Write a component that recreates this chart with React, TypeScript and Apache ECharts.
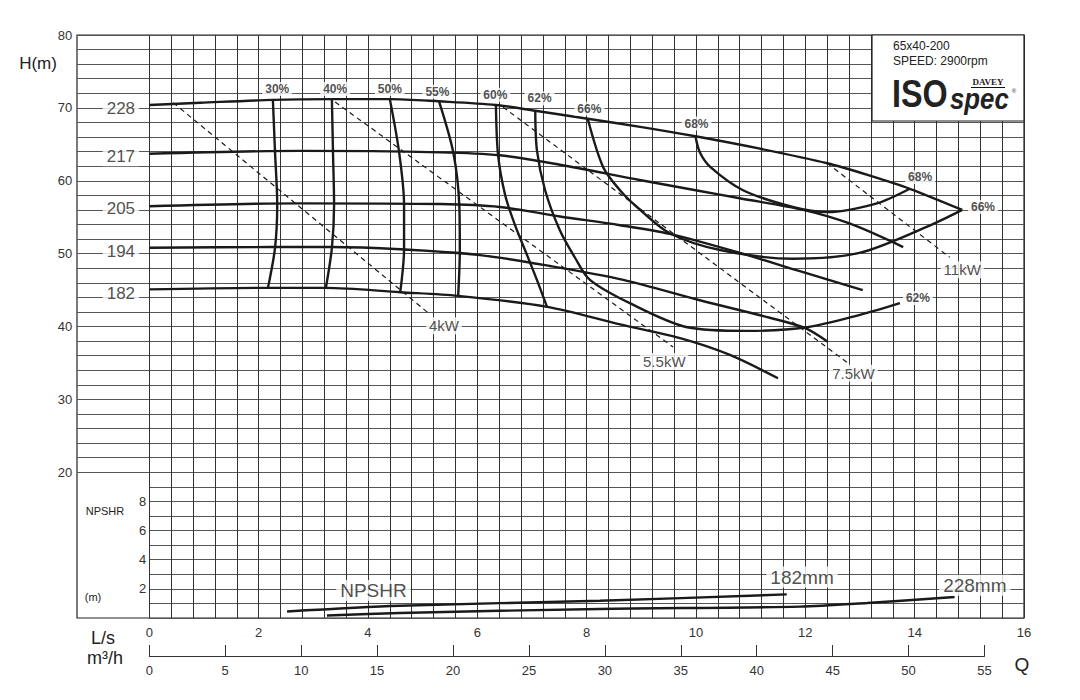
import React, { useEffect, useRef } from 'react';
import * as echarts from 'echarts';

// ---- Head curves (Q in L/s, H in m) per impeller diameter ----
const head228 = [[0, 70.4], [0.93, 70.7], [2.26, 71.1], [3.34, 71.2], [4.4, 71.2], [5.3, 70.9], [6.34, 70.4], [7.06, 69.6], [8.02, 68.5], [8.98, 67.4], [9.99, 66.1], [11.17, 64.4], [12.4, 62.4], [13.18, 60.7], [13.91, 58.9], [14.87, 56.0]];
const head217 = [[0, 63.7], [2.76, 64.1], [5.32, 63.9], [6.41, 63.5], [7.51, 62.2], [8.97, 60.1], [10.07, 58.6], [10.8, 57.6], [11.96, 56.0], [12.82, 54.1], [13.79, 50.9]];
const head205 = [[0, 56.5], [2.76, 56.9], [5.32, 56.8], [6.41, 56.4], [7.51, 55.1], [8.61, 53.9], [9.52, 52.7], [10.8, 50.1], [11.9, 47.6], [13.05, 45.0]];
const head194 = [[0, 50.8], [2.21, 50.9], [3.31, 50.9], [4.59, 50.6], [6.05, 49.8], [7.33, 48.3], [8.67, 46.4], [10.07, 43.6], [11.35, 41.2], [11.99, 39.8], [12.41, 37.9]];
const head182 = [[0, 45.1], [2.17, 45.3], [3.23, 45.3], [4.59, 44.7], [5.65, 44.2], [7.28, 42.7], [8.61, 40.3], [9.71, 38.4], [10.62, 36.1], [11.5, 32.9]];

// ---- Iso-efficiency curves ----
const eff30 = [[2.26, 71.2], [2.3, 63.9], [2.34, 56.8], [2.3, 50.8], [2.17, 45.3]];
const eff40 = [[3.34, 71.2], [3.36, 63.9], [3.38, 56.7], [3.34, 50.8], [3.23, 45.3]];
const eff50 = [[4.4, 71.2], [4.57, 63.9], [4.66, 56.7], [4.66, 50.6], [4.59, 44.7]];
const eff55 = [[5.3, 70.9], [5.56, 63.9], [5.67, 56.7], [5.68, 50.5], [5.65, 44.2]];
const eff60 = [[6.34, 70.4], [6.38, 63.5], [6.51, 58.0], [6.69, 53.9], [6.91, 49.8], [7.09, 46.4], [7.28, 42.6]];
const eff62 = [[7.06, 69.6], [7.09, 64.2], [7.24, 58.7], [7.51, 53.2], [7.79, 49.4], [8.06, 46.4], [8.79, 43.2], [9.84, 39.9], [10.93, 39.4], [12.03, 39.9], [13.0, 41.6], [13.73, 43.2]];
const eff66 = [[8.02, 68.5], [8.3, 61.9], [8.61, 58.7], [8.92, 56.4], [9.52, 52.8], [10.44, 50.5], [11.77, 49.3], [12.99, 50.1], [14.23, 53.7], [14.87, 56.0]];
const eff68 = [[9.99, 66.1], [10.07, 63.9], [10.26, 61.9], [10.86, 58.7], [11.77, 56.4], [12.4, 55.7], [13.31, 56.9], [13.91, 58.9]];

// ---- Power lines (dashed) ----
const power4 = [[0.44, 70.7], [5.13, 41.7]];
const power55 = [[3.4, 70.8], [9.58, 37.2]];
const power75 = [[6.47, 70.1], [12.76, 35.1]];
const power11 = [[12.4, 62.4], [14.64, 49.5]];

// ---- NPSHR curves (Q in L/s, NPSHR in m) ----
const npshr182 = [[2.52, 0.45], [4.58, 0.84], [8.24, 1.18], [11.66, 1.62]];
const npshr228 = [[3.25, 0.17], [4.58, 0.34], [8.24, 0.62], [11.9, 0.78], [13.13, 1.03], [14.73, 1.44]];

// ---- Labels ----
const diameterNames = ['228', '217', '205', '194', '182'];
const diameterLabelQ = [-0.52, -0.52, -0.52, -0.52, -0.52];
const diameterLabelH = [69.9, 63.3, 56.2, 50.25, 44.5];

const effNames = ['30%', '40%', '50%', '55%', '60%', '62%', '66%', '68%', '68%', '66%', '62%'];
const effLabelQ = [2.34, 3.4, 4.4, 5.27, 6.33, 7.14, 8.05, 10.01, 14.1, 15.25, 14.06];
const effLabelH = [72.6, 72.6, 72.6, 72.2, 71.8, 71.3, 69.9, 67.85, 60.5, 56.4, 43.9];

const powerNames = ['4kW', '5.5kW', '7.5kW', '11kW'];
const powerLabelQ = [5.39, 9.42, 12.88, 14.87];
const powerLabelH = [40.1, 35.2, 33.6, 47.8];

const npshrNames = ['NPSHR', '182mm', '228mm'];
const npshrLabelQ = [4.1, 11.94, 15.1];
const npshrLabelN = [1.89, 2.81, 2.24];

const FONT = '"Liberation Sans", Arial, Helvetica, sans-serif';
const INK = '#1a1a1a';

function labelData(names: string[], xs: number[], ys: number[]) {
  return names.map((n, i) => ({ name: n, value: [xs[i], ys[i]] }));
}

function curve(data: number[][], yAxisIndex = 1, dashed = false) {
  return {
    type: 'line',
    xAxisIndex: 1,
    yAxisIndex,
    data,
    symbol: 'none',
    showSymbol: false,
    smooth: 0.3,
    silent: true,
    z: 3,
    lineStyle: {
      color: INK,
      width: dashed ? 1.2 : 2.4,
      type: dashed ? [5, 4] : 'solid',
    },
  };
}

function labelSeries(names: string[], xs: number[], ys: number[], fontSize: number, bold: boolean, yAxisIndex = 1, padding: number[] = [1, 3]) {
  return {
    type: 'scatter',
    xAxisIndex: 1,
    yAxisIndex,
    symbolSize: 1,
    clip: false,
    silent: true,
    z: 6,
    itemStyle: { color: 'transparent' },
    data: labelData(names, xs, ys),
    label: {
      show: true,
      position: 'inside',
      formatter: '{b}',
      fontFamily: FONT,
      fontSize,
      fontWeight: bold ? 'bold' : 'normal',
      color: '#222',
      backgroundColor: '#fff',
      padding,
    },
  };
}

export default function App() {
  const ref = useRef<HTMLDivElement>(null);

  useEffect(() => {
    if (!ref.current) return;
    const chart = echarts.init(ref.current, undefined, { renderer: 'svg' });
    const gridV = { color: '#333', width: 1 };
    const gridH = { color: '#555', width: 1 };
    const txt = (x: number, y: number, text: string, font: string, align = 'center', extra: any = {}) => ({
      type: 'text', x, y, z: 100, ...extra,
      style: { text, font, fill: '#222', textAlign: align, textVerticalAlign: 'middle' },
    });

    const option: any = {
      animation: false,
      backgroundColor: '#fff',
      textStyle: { fontFamily: FONT },
      grid: [
        { left: 77, right: 56, top: 35, bottom: 82, show: true, borderColor: '#222', borderWidth: 1.2, backgroundColor: 'transparent' },
        { left: 149.3, right: 56, top: 35, bottom: 82 },
        { left: 77, width: 72.3, top: 35, height: 437.25 },
        { left: 149.3, width: 835.2, top: 600, bottom: 44 },
      ],
      xAxis: [
        { gridIndex: 0, type: 'value', min: 0, max: 1, show: false },
        {
          gridIndex: 1, type: 'value', min: 0, max: 16, interval: 2,
          axisLine: { show: false }, axisTick: { show: false },
          axisLabel: { margin: 8, fontSize: 13, color: '#333', fontFamily: FONT },
          splitLine: { show: true, lineStyle: gridV },
          minorTick: { show: false, splitNumber: 5 },
          minorSplitLine: { show: true, lineStyle: gridV },
        },
        { gridIndex: 2, type: 'value', min: 0, max: 1, show: false },
        {
          gridIndex: 3, type: 'value', min: 0, max: 55, interval: 5, position: 'bottom',
          axisLine: { show: true, lineStyle: { color: '#333', width: 1 } },
          axisTick: { show: true, inside: true, length: 11, lineStyle: { color: '#333' } },
          axisLabel: { margin: 8, fontSize: 13, color: '#333', fontFamily: FONT },
          splitLine: { show: false },
        },
      ],
      yAxis: [
        { gridIndex: 0, type: 'value', min: 0, max: 1, show: false },
        {
          gridIndex: 1, type: 'value', min: 0, max: 80, interval: 10, position: 'left',
          axisLine: { show: false }, axisTick: { show: false },
          axisLabel: { margin: 77, fontSize: 13, color: '#333', fontFamily: FONT, formatter: (v: number) => (v >= 20 ? String(v) : '') },
          splitLine: { show: true, lineStyle: gridH },
          minorTick: { show: false, splitNumber: 5 },
          minorSplitLine: { show: true, lineStyle: gridH },
        },
        {
          gridIndex: 1, type: 'value', min: 0, max: 40, interval: 2, position: 'left',
          axisLine: { show: false }, axisTick: { show: false },
          axisLabel: { margin: 3, fontSize: 13, color: '#333', fontFamily: FONT, formatter: (v: number) => (v >= 2 && v <= 8 ? String(v) : '') },
          splitLine: { show: false },
        },
        {
          gridIndex: 2, type: 'value', min: 20, max: 80, interval: 2,
          axisLine: { show: false }, axisTick: { show: false }, axisLabel: { show: false },
          splitLine: { show: true, lineStyle: gridH },
        },
        { gridIndex: 3, type: 'value', min: 0, max: 1, show: false },
      ],
      series: [
        curve(head228), curve(head217), curve(head205), curve(head194), curve(head182),
        curve(eff30), curve(eff40), curve(eff50), curve(eff55), curve(eff60), curve(eff62), curve(eff66), curve(eff68),
        curve(power4, 1, true), curve(power55, 1, true), curve(power75, 1, true), curve(power11, 1, true),
        curve(npshr182, 2), curve(npshr228, 2),
        labelSeries(diameterNames, diameterLabelQ, diameterLabelH, 17, false, 1, [1, 4]),
        labelSeries(effNames, effLabelQ, effLabelH, 12, true, 1, [1, 3]),
        labelSeries(powerNames, powerLabelQ, powerLabelH, 15, false, 1, [1, 3]),
        labelSeries(npshrNames, npshrLabelQ, npshrLabelN, 19, false, 2, [1, 4]),
      ],
      graphic: [
        txt(38, 63, 'H(m)', `17px ${FONT}`),
        txt(103, 638, 'L/s', `18px ${FONT}`),
        txt(105, 658, 'm³/h', `18px ${FONT}`),
        txt(1022, 664, 'Q', `19px ${FONT}`),
        txt(105, 511, 'NPSHR', `11px ${FONT}`),
        txt(93, 597, '(m)', `11px ${FONT}`),
        { type: 'rect', z: 99, shape: { x: 872, y: 35, width: 152, height: 86 }, style: { fill: '#fff', stroke: '#222', lineWidth: 1.2 } },
        txt(893, 46, '65x40-200', `12px ${FONT}`, 'left'),
        txt(893, 61, 'SPEED: 2900rpm', `12px ${FONT}`, 'left'),
        txt(892, 94, 'ISO', `bold 38px ${FONT}`, 'left', { scaleX: 0.85 }),
        txt(950, 99, 'spec', `italic bold 30px ${FONT}`, 'left', { scaleX: 0.86 }),
        txt(988, 82, 'DAVEY', `bold 9px "Liberation Serif", serif`),
        { type: 'line', z: 100, shape: { x1: 971, y1: 87.5, x2: 1005, y2: 87.5 }, style: { stroke: '#111', lineWidth: 1 } },
        txt(1014, 91, '®', `6px ${FONT}`),
      ],
    };

    chart.setOption(option);
    return () => chart.dispose();
  }, []);

  return (
    <div
      ref={ref}
      style={{ position: 'fixed', left: 0, top: 0, width: 1080, height: 700, background: '#fff' }}
    />
  );
}
